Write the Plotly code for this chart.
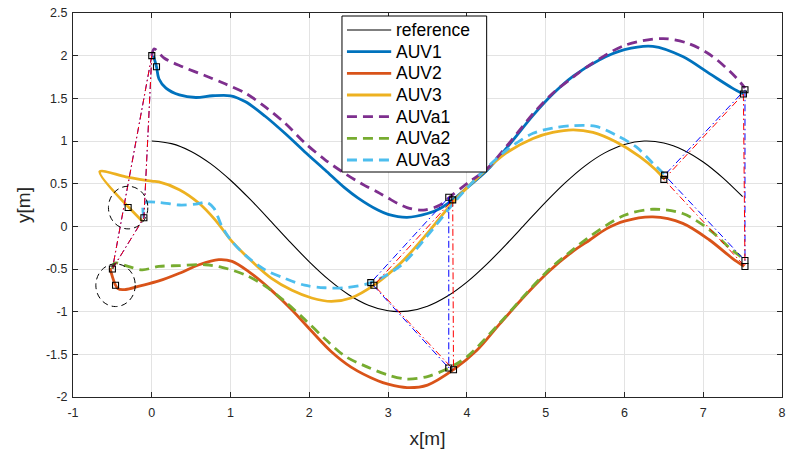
import plotly.graph_objects as go

# ---- reference path ----
ref_x = [0, 0.25, 0.5, 0.75, 1, 1.25, 1.5, 1.75, 2, 2.25, 2.5, 2.75, 3, 3.25, 3.5,
         3.75, 4, 4.25, 4.5, 4.75, 5, 5.25, 5.5, 5.75, 6, 6.25, 6.5, 6.75, 7, 7.25, 7.5]
ref_y = [1.0, 0.969, 0.878, 0.732, 0.540, 0.315, 0.071, -0.178, -0.416, -0.628, -0.801,
         -0.924, -0.990, -0.994, -0.936, -0.820, -0.654, -0.446, -0.211, 0.037, 0.284,
         0.512, 0.709, 0.861, 0.960, 1.0, 0.977, 0.893, 0.754, 0.568, 0.347]

# ---- actual vehicle tracks ----
auv1_x = [0.02, 0.06, 0.09, 0.18, 0.35, 0.56, 0.77, 1.0, 1.19, 1.44, 1.69, 1.94, 2.2, 2.45,
          2.62, 2.87, 3.0, 3.24, 3.5, 3.66, 3.82, 4.0, 4.25, 4.55, 4.84, 5.09, 5.35, 5.68,
          6.0, 6.36, 6.74, 7.08, 7.37, 7.51]
auv1_y = [2.0, 1.87, 1.73, 1.62, 1.54, 1.51, 1.53, 1.53, 1.46, 1.29, 1.09, 0.875, 0.66, 0.45,
          0.33, 0.19, 0.14, 0.105, 0.15, 0.21, 0.31, 0.45, 0.65, 0.97, 1.30, 1.55, 1.76, 1.95,
          2.07, 2.11, 1.99, 1.79, 1.62, 1.55]

auv2_x = [-0.53, -0.43, -0.33, -0.16, 0.09, 0.35, 0.6, 0.85, 1.02, 1.23, 1.52, 1.78, 2.03,
          2.28, 2.53, 2.87, 3.0, 3.24, 3.5, 3.83, 4.13, 4.42, 4.76, 5.05, 5.35, 5.56, 5.77,
          6.0, 6.36, 6.74, 7.08, 7.37, 7.52]
auv2_y = [-0.49, -0.73, -0.74, -0.70, -0.64, -0.55, -0.45, -0.39, -0.41, -0.53, -0.75, -0.98,
          -1.23, -1.47, -1.65, -1.81, -1.85, -1.89, -1.86, -1.68, -1.45, -1.14, -0.79, -0.52,
          -0.29, -0.16, -0.03, 0.06, 0.11, 0.035, -0.16, -0.375, -0.47]

auv3_x = [-0.12, -0.66, -0.33, 0.0, 0.09, 0.35, 0.6, 0.81, 1.02, 1.27, 1.52, 1.78, 2.03, 2.28,
          2.53, 2.82, 3.16, 3.5, 3.83, 4.17, 4.5, 4.84, 5.09, 5.35, 5.6, 5.89, 6.19, 6.4, 6.51]
auv3_y = [0.06, 0.64, 0.58, 0.53, 0.52, 0.43, 0.27, 0.07, -0.18, -0.41, -0.61, -0.75, -0.84,
          -0.88, -0.84, -0.69, -0.43, -0.08, 0.29, 0.60, 0.86, 1.03, 1.10, 1.13, 1.10, 0.99,
          0.82, 0.66, 0.55]

# ---- virtual (desired) vehicle tracks ----
auva1_x = [0.0, 0.03, 0.16, 0.39, 0.68, 0.93, 1.19, 1.44, 1.69, 1.94, 2.2, 2.45, 2.7, 2.87,
           3.0, 3.24, 3.45, 3.66, 3.79, 4.0, 4.25, 4.55, 4.84, 5.09, 5.35, 5.56, 6.0, 6.49,
           6.82, 7.12, 7.41, 7.53]
auva1_y = [2.0, 2.08, 1.97, 1.87, 1.765, 1.67, 1.56, 1.40, 1.21, 0.98, 0.78, 0.62, 0.48, 0.40,
           0.33, 0.22, 0.19, 0.25, 0.35, 0.50, 0.67, 0.99, 1.32, 1.56, 1.75, 1.89, 2.12, 2.2,
           2.14, 1.99, 1.75, 1.62]

auva2_x = [-0.5, -0.47, -0.3, -0.12, 0.09, 0.35, 0.68, 0.89, 1.19, 1.44, 1.69, 1.94, 2.2,
           2.45, 2.74, 2.99, 3.24, 3.5, 3.77, 4.0, 4.42, 4.76, 5.05, 5.35, 5.56, 6.0, 6.36,
           6.74, 7.08, 7.37, 7.53]
auva2_y = [-0.5, -0.43, -0.47, -0.51, -0.47, -0.46, -0.45, -0.48, -0.57, -0.70, -0.88, -1.09,
           -1.32, -1.52, -1.65, -1.74, -1.79, -1.76, -1.66, -1.53, -1.13, -0.78, -0.5, -0.27,
           -0.12, 0.13, 0.2, 0.15, -0.04, -0.28, -0.39]

auva3_x = [-0.1, -0.1, 0.09, 0.35, 0.56, 0.7, 0.79, 0.89, 1.02, 1.19, 1.44, 1.69, 1.94, 2.2,
           2.45, 2.78, 3.16, 3.5, 3.83, 4.17, 4.5, 4.84, 5.09, 5.35, 5.64, 5.89, 6.15, 6.36,
           6.53]
auva3_y = [0.1, 0.27, 0.28, 0.25, 0.26, 0.28, 0.21, 0.0, -0.18, -0.34, -0.51, -0.61, -0.69,
           -0.72, -0.72, -0.66, -0.46, -0.11, 0.27, 0.61, 0.89, 1.09, 1.15, 1.18, 1.17, 1.07,
           0.93, 0.74, 0.59]

# ---- formation snapshots at three instants ----
# vehicle positions
snap_auv1 = [(0.06, 1.87), (3.82, 0.31), (7.51, 1.55)]
snap_auv2 = [(-0.46, -0.69), (3.83, -1.68), (7.53, -0.47)]
snap_auv3 = [(-0.3, 0.22), (2.82, -0.69), (6.5, 0.55)]
# virtual-vehicle positions
snap_auva1 = [(0.0, 2.0), (3.77, 0.34), (7.53, 1.60)]
snap_auva2 = [(-0.5, -0.5), (3.77, -1.66), (7.53, -0.40)]
snap_auva3 = [(-0.1, 0.1), (2.78, -0.66), (6.51, 0.60)]
# estimated formation (starts on the virtual formation)
snap_est1 = [(0.0, 2.0), (3.82, 0.31), (7.51, 1.55)]
snap_est2 = [(-0.5, -0.5), (3.83, -1.68), (7.53, -0.47)]
snap_est3 = [(-0.1, 0.1), (2.82, -0.69), (6.5, 0.55)]

# initial-position uncertainty circles (centre = initial vehicle position)
circle_centres = [snap_auv3[0], snap_auv2[0]]
circle_radius = 0.25

x_ticks = [-1, 0, 1, 2, 3, 4, 5, 6, 7, 8]
x_ticktext = ["-1", "0", "1", "2", "3", "4", "5", "6", "7", "8"]
y_ticks = [-2, -1.5, -1, -0.5, 0, 0.5, 1, 1.5, 2, 2.5]
y_ticktext = ["-2", "-1.5", "-1", "-0.5", "0", "0.5", "1", "1.5", "2", "2.5"]

legend_labels = ["reference", "AUV1", "AUV2", "AUV3", "AUVa1", "AUVa2", "AUVa3"]

C_REF = "black"
C_AUV1 = "#0072BD"
C_AUV2 = "#D95319"
C_AUV3 = "#EDB120"
C_AUVA1 = "#7E2F8E"
C_AUVA2 = "#77AC30"
C_AUVA3 = "#4DBEEE"
AX = "#262626"
FONT = "Liberation Sans, Arial, Helvetica, sans-serif"
DASH = "10px,6px"
DASHDOT = "7px,3px,1.5px,3px"
LW = 2.8

# plot-area geometry in pixels (used for the boxed legend)
W, H = 789, 451
ML, MR, MT, MB = 73, 3, 13, 54
PW, PH = W - ML - MR, H - MT - MB


def paper_x(px):
    return (px - ML) / PW


def paper_y(py):
    return (H - MB - py) / PH


fig = go.Figure()

styles = [
    (ref_x, ref_y, C_REF, 1.1, "solid"),
    (auv1_x, auv1_y, C_AUV1, LW, "solid"),
    (auv2_x, auv2_y, C_AUV2, LW, "solid"),
    (auv3_x, auv3_y, C_AUV3, LW, "solid"),
    (auva1_x, auva1_y, C_AUVA1, LW, DASH),
    (auva2_x, auva2_y, C_AUVA2, LW, DASH),
    (auva3_x, auva3_y, C_AUVA3, LW, DASH),
]
for (xs, ys, col, w, dash), name in zip(styles, legend_labels):
    fig.add_trace(go.Scatter(x=xs, y=ys, mode="lines", name=name, showlegend=False,
                             line=dict(color=col, width=w, dash=dash,
                                       shape="spline", smoothing=0.9)))


def triangles(p1, p2, p3):
    xs, ys = [], []
    for a, b, c in zip(p1, p2, p3):
        xs += [a[0], b[0], c[0], a[0], None]
        ys += [a[1], b[1], c[1], a[1], None]
    return xs, ys


tx, ty = triangles(snap_auva1, snap_auva2, snap_auva3)
fig.add_trace(go.Scatter(x=tx, y=ty, mode="lines", showlegend=False,
                         line=dict(color="blue", width=1, dash=DASHDOT)))
tx, ty = triangles(snap_est1, snap_est2, snap_est3)
fig.add_trace(go.Scatter(x=tx, y=ty, mode="lines", showlegend=False,
                         line=dict(color="red", width=1, dash=DASHDOT)))

mk = snap_auv1 + snap_auv2 + snap_auv3 + snap_auva1 + snap_auva2 + snap_auva3
fig.add_trace(go.Scatter(x=[p[0] for p in mk], y=[p[1] for p in mk], mode="markers",
                         showlegend=False,
                         marker=dict(symbol="square-open", color="black", size=6,
                                     line=dict(width=1.1, color="black"))))

shapes = []
for cx, cy in circle_centres:
    shapes.append(dict(type="circle", xref="x", yref="y",
                       x0=cx - circle_radius, x1=cx + circle_radius,
                       y0=cy - circle_radius, y1=cy + circle_radius,
                       line=dict(color="black", width=1, dash="6px,4px")))

# boxed legend
annotations = []
LEG_L, LEG_R, LEG_T, LEG_B = 343.5, 489, 16, 172
ROW0, ROW_STEP = 30, 21.67
shapes.append(dict(type="rect", xref="paper", yref="paper",
                   x0=paper_x(LEG_L), x1=paper_x(LEG_R),
                   y0=paper_y(LEG_B), y1=paper_y(LEG_T),
                   line=dict(color="black", width=1), fillcolor="white", layer="above"))
for i, ((_, _, col, w, dash), label) in enumerate(zip(styles, legend_labels)):
    yc = paper_y(ROW0 + i * ROW_STEP)
    shapes.append(dict(type="line", xref="paper", yref="paper",
                       x0=paper_x(348.5), x1=paper_x(393), y0=yc, y1=yc,
                       line=dict(color=col, width=w, dash=dash), layer="above"))
    annotations.append(dict(text=label, xref="paper", yref="paper",
                            x=paper_x(396), y=yc, xanchor="left", yanchor="middle",
                            showarrow=False,
                            font=dict(family=FONT, size=17.5, color="black")))

fig.update_layout(
    width=W, height=H,
    margin=dict(l=ML, r=MR, t=MT, b=MB),
    paper_bgcolor="white", plot_bgcolor="white",
    font=dict(family=FONT, color=AX, size=12),
    shapes=shapes, annotations=annotations, showlegend=False,
)
fig.update_xaxes(range=[-1, 8], tickvals=x_ticks, ticktext=x_ticktext,
                 showgrid=True, gridcolor="#e3e3e3", gridwidth=1, zeroline=False,
                 showline=True, linecolor=AX, linewidth=1, mirror="ticks",
                 ticks="inside", ticklen=5, tickcolor=AX,
                 ticklabeloverflow="allow", ticklabelstandoff=4,
                 tickfont=dict(size=12.5, color=AX),
                 title=dict(text="x[m]", font=dict(size=19, color=AX), standoff=12))
fig.update_yaxes(range=[-2, 2.5], tickvals=y_ticks, ticktext=y_ticktext,
                 showgrid=True, gridcolor="#e3e3e3", gridwidth=1, zeroline=False,
                 showline=True, linecolor=AX, linewidth=1, mirror="ticks",
                 ticks="inside", ticklen=5, tickcolor=AX,
                 ticklabeloverflow="allow", ticklabelstandoff=2,
                 tickfont=dict(size=12.5, color=AX),
                 title=dict(text="y[m]", font=dict(size=19, color=AX), standoff=10))

fig.write_html("out.html")
